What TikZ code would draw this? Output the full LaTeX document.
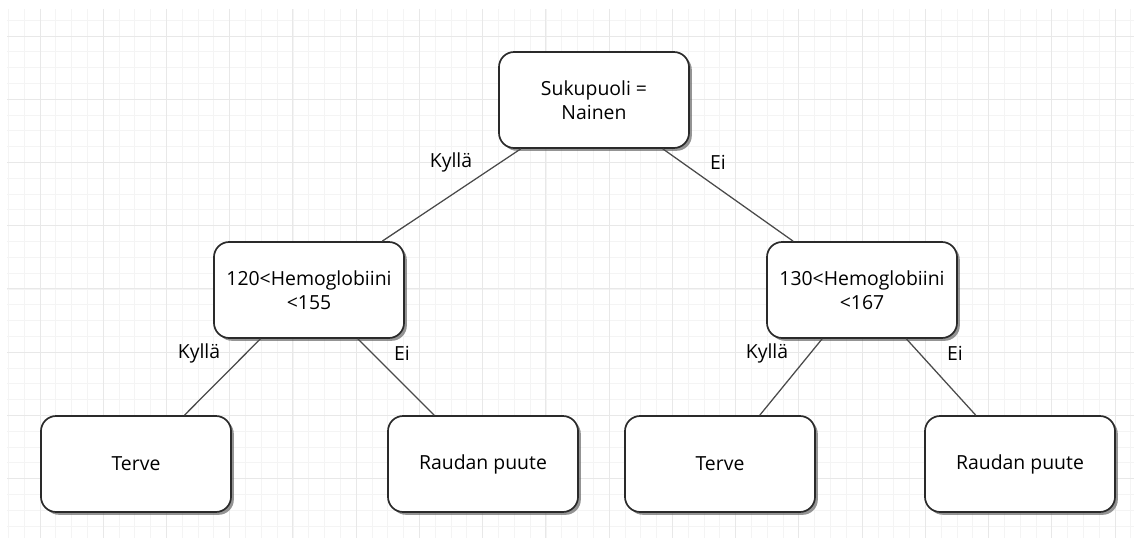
\documentclass[tikz,border=0pt]{standalone}
\usepackage{fontspec}
\setmainfont{Open Sans}
\usetikzlibrary{shadows}
\definecolor{gridminor}{HTML}{F4F4F4}
\definecolor{gridmajor}{HTML}{E8E8E8}
\definecolor{boxline}{HTML}{2A2A2A}
\definecolor{edgeline}{HTML}{4A4A4A}
\tikzset{
  treebox/.style={draw=boxline, line width=1.2pt, fill=white, rounded corners=0.38cm,
    minimum width=4.75cm, minimum height=2.4cm, align=center, inner sep=0pt,
    font=\fontsize{13.8}{17}\selectfont,
    drop shadow={shadow xshift=0.07cm, shadow yshift=-0.07cm, fill=black!60, opacity=0.7}},
  branch/.style={draw=edgeline, line width=0.9pt},
  answer/.style={font=\fontsize{13.8}{16}\selectfont, inner sep=0pt}
}

\begin{document}
\begin{tikzpicture}[x=0.025cm, y=-0.025cm]
			%%%%% START %%%%%
			\useasboundingbox (0, 0) rectangle (1134, 538);
			
			% grid
			\foreach \i in {-2,...,69}
			  \draw[gridminor, line width=0.6pt] ({40+\i*15.81}, 9) -- ({40+\i*15.81}, 538);
			\foreach \i in {-1,...,33}
			  \draw[gridminor, line width=0.6pt] (7, {36+\i*15.81}) -- (1134, {36+\i*15.81});
			\foreach \i in {0,...,17}
			  \draw[gridmajor, line width=0.7pt] ({40+\i*63.24}, 9) -- ({40+\i*63.24}, 538);
			\foreach \i in {0,...,8}
			  \draw[gridmajor, line width=0.7pt] (7, {36+\i*63.24}) -- (1134, {36+\i*63.24});
			
			% boxes
			\node[treebox] (sex) at (594, 100) {Sukupuoli =\\Nainen};
			\node[treebox] (hbf) at (309, 290) {120<Hemoglobiini\\<155};
			\node[treebox] (hbm) at (862, 290) {130<Hemoglobiini\\<167};
			\node[treebox] (okf) at (136, 464) {Terve};
			\node[treebox] (lowf) at (483, 464) {Raudan puute};
			\node[treebox] (okm) at (720, 464) {Terve};
			\node[treebox] (lowm) at (1020, 464) {Raudan puute};
			
			% branches
			\draw[branch] (sex) -- (hbf);
			\draw[branch] (sex) -- (hbm);
			\draw[branch] (hbf) -- (okf);
			\draw[branch] (hbf) -- (lowf);
			\draw[branch] (hbm) -- (okm);
			\draw[branch] (hbm) -- (lowm);
			
			% answers
			\node[answer] (yes0) at (451, 162) {Kyllä};
			\node[answer] (no0) at (718, 162) {Ei};
			\node[answer] (yes1) at (199, 353) {Kyllä};
			\node[answer] (no1) at (402, 353) {Ei};
			\node[answer] (yes2) at (767, 353) {Kyllä};
			\node[answer] (no2) at (955, 353) {Ei};
			%%%%% END %%%%%
		\end{tikzpicture}
\end{document}
